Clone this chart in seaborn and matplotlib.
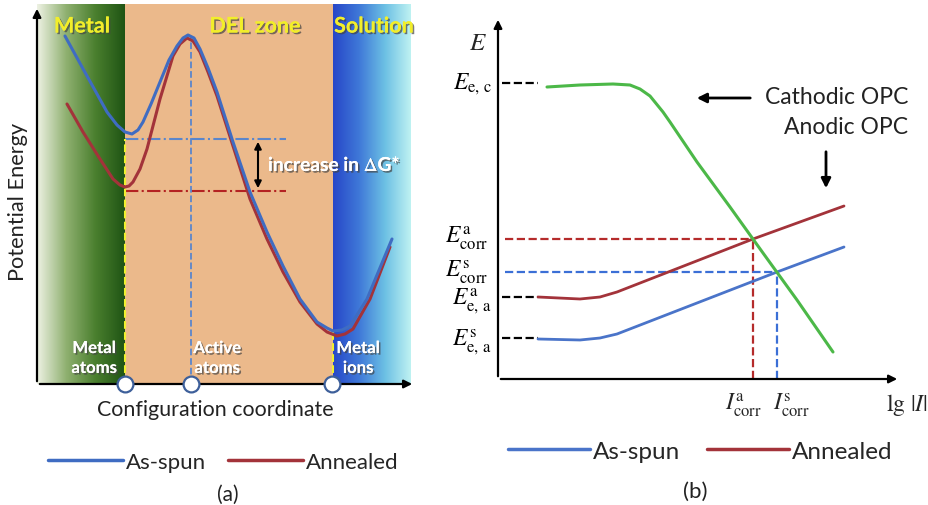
import matplotlib
matplotlib.use("Agg")
import matplotlib.pyplot as plt
import matplotlib.patheffects as pe
from matplotlib.colors import LinearSegmentedColormap
from matplotlib.lines import Line2D
import seaborn as sns
import numpy as np

# ---- panel (a): potential energy vs configuration coordinate (arbitrary units) ----
a_spun_x = [28, 50, 70, 80, 88, 95, 101, 106, 114, 123, 132, 140, 146, 151, 157, 163, 171, 180, 196, 213, 230, 246, 263, 280, 290, 296, 305, 313, 330, 355]
a_spun_y = [348, 308, 272, 259, 252, 250, 254, 262, 280, 302, 324, 338, 346, 349, 346, 335, 316, 292, 242, 192, 152, 118, 85, 62, 56, 53, 54, 58, 85, 145]
a_ann_x = [30, 46, 63, 76, 83, 88, 92, 96, 103, 110, 123, 136, 143, 150, 156, 163, 171, 180, 196, 213, 230, 246, 263, 280, 290, 300, 308, 316, 333, 353]
a_ann_y = [280, 252, 225, 205, 199, 197, 198, 202, 215, 235, 285, 328, 340, 346, 343, 332, 312, 288, 238, 185, 145, 112, 82, 60, 52, 48, 50, 55, 85, 137]
zone_edges = [0, 88, 296, 374]        # metal | DEL zone | solution
level_spun, level_ann = 245, 193      # energy minima levels (dash-dot)
active_x = 154
site_x = [88, 154, 295]

# ---- panel (b): E vs lg|I| ----
cat_x = [49, 82, 115, 132, 142, 152, 165, 172, 199, 232, 265, 299, 335]
cat_y = [292, 294, 295, 294, 290, 283, 267, 257, 217, 172, 126, 79, 27]
b_ann_x = [40, 82, 102, 119, 255, 346]
b_ann_y = [82, 80, 82, 87, 140, 173]
b_spun_x = [40, 82, 102, 119, 279, 346]
b_spun_y = [40, 39, 41, 45, 107, 132]
E_ec, E_corr_a, E_corr_s, E_ea_a, E_ea_s = 296, 140, 107, 82, 41
I_corr_a, I_corr_s = 255, 279

BLUE, RED, GREEN = "#3f6cc2", "#a3333a", "#4cb848"

sns.set_theme(style="white")
plt.rcParams["font.family"] = ["Lato", "DejaVu Sans"]
plt.rcParams["mathtext.fontset"] = "stix"

fig = plt.figure(figsize=(9.29, 5.06), dpi=100)
axa = fig.add_axes([37 / 929, 121 / 506, 380 / 929, 380 / 506])
axb = fig.add_axes([498 / 929, 126 / 506, 410 / 929, 360 / 506])

# ================= panel (a) =================
ax = axa
grad = np.linspace(0, 1, 256).reshape(1, -1)
green_cm = LinearSegmentedColormap.from_list("g", ["#eef2e4", "#8fb070", "#4a7f2e", "#1f5414"])
blue_cm = LinearSegmentedColormap.from_list("b", ["#2747c8", "#3f78d8", "#6cc0e4", "#bff2f2"])
ax.imshow(grad, extent=[zone_edges[0], zone_edges[1], 0, 380], aspect="auto", cmap=green_cm, zorder=0)
ax.axvspan(zone_edges[1], zone_edges[2], ymin=0, ymax=1, color="#ebb98b", lw=0, zorder=0)
ax.imshow(grad, extent=[zone_edges[2], zone_edges[3], 0, 380], aspect="auto", cmap=blue_cm, zorder=0)

sns.lineplot(x=a_spun_x, y=a_spun_y, ax=ax, color=BLUE, lw=2.2, zorder=4)
sns.lineplot(x=a_ann_x, y=a_ann_y, ax=ax, color=RED, lw=2.2, zorder=3)

ax.plot([zone_edges[1], 249], [level_spun] * 2, ls="-.", color="#5a86cc", lw=1.5, zorder=2)
ax.plot([zone_edges[1], 249], [level_ann] * 2, ls="-.", color="#b42222", lw=1.5, zorder=2)
ax.plot([active_x, active_x], [0, 347], ls="--", color="#5a86cc", lw=1.3, zorder=2)
ax.plot([zone_edges[1]] * 2, [0, level_spun], ls="--", color="#f0f030", lw=1.5, zorder=2)
ax.plot([zone_edges[2]] * 2, [0, 55], ls="--", color="#f0f030", lw=1.5, zorder=2)
ax.annotate("", xy=(221, level_spun), xytext=(221, level_ann),
            arrowprops=dict(arrowstyle="<|-|>", color="black", lw=1.5, mutation_scale=10))
ax.scatter(site_x, [0] * 3, s=130, facecolor="white", edgecolor="#3d5f9a", lw=1.6, zorder=6, clip_on=False)

shadow = [pe.withSimplePatchShadow(offset=(1.2, -1.2), shadow_rgbFace="#444444", alpha=0.7), pe.Normal()]
for txt, x in [("Metal", 45), ("DEL zone", 218), ("Solution", 337)]:
    ax.text(x, 358, txt, color="#f2ee2a", fontsize=15.5, fontweight="bold", ha="center", va="center",
            path_effects=shadow, zorder=7)
for txt, x in [("Metal\natoms", 57), ("Active\natoms", 180), ("Metal\nions", 321)]:
    ax.text(x, 26, txt, color="white", fontsize=12, fontweight="bold", ha="center", va="center",
            linespacing=1.3, path_effects=shadow, zorder=7)
ax.text(231, 219, r"increase in $\Delta$G*", color="white", fontsize=13.8, fontweight="bold",
        ha="left", va="center", path_effects=shadow, zorder=7)

ax.set_xlim(0, 380)
ax.set_ylim(0, 380)
for s in ax.spines.values():
    s.set_visible(False)
ax.set_xticks([])
ax.set_yticks([])
ax.annotate("", xy=(378, 0), xytext=(0, 0), xycoords="data",
            arrowprops=dict(arrowstyle="-|>", color="black", lw=1.6, mutation_scale=12), annotation_clip=False)
ax.annotate("", xy=(0, 378), xytext=(0, 0), xycoords="data",
            arrowprops=dict(arrowstyle="-|>", color="black", lw=1.6, mutation_scale=12), annotation_clip=False)
ax.text(-19, 183, "Potential Energy", rotation=90, fontsize=15.7, ha="center", va="center", color="#222222")
ax.text(178, -25, "Configuration coordinate", fontsize=15.4, ha="center", va="center", color="#222222")
ax.text(191, -110, "(a)", fontsize=15, ha="center", va="center", color="#222222")

# ================= panel (b) =================
ax = axb
sns.lineplot(x=cat_x, y=cat_y, ax=ax, color=GREEN, lw=2.2, zorder=4)
sns.lineplot(x=b_ann_x, y=b_ann_y, ax=ax, color=RED, lw=2.0, zorder=3)
sns.lineplot(x=b_spun_x, y=b_spun_y, ax=ax, color="#4a74c9", lw=2.0, zorder=3)

ax.plot([7, I_corr_a], [E_corr_a] * 2, ls="--", color="#b52b2b", lw=1.6)
ax.plot([I_corr_a] * 2, [0, E_corr_a], ls="--", color="#b52b2b", lw=1.6)
ax.plot([7, I_corr_s], [E_corr_s] * 2, ls="--", color="#3b6fd6", lw=1.6)
ax.plot([I_corr_s] * 2, [0, E_corr_s], ls="--", color="#3b6fd6", lw=1.6)
for lv in [E_ec, E_ea_a, E_ea_s]:
    ax.plot([4, 40], [lv, lv], ls="--", color="black", lw=1.6)

lab_kw = dict(fontsize=17, ha="right", va="center", color="black")
ax.text(-6, E_ec, r"$E_{\mathrm{e,\,c}}$", **lab_kw)
ax.text(-10, E_corr_a + 2, r"$E^{\mathrm{a}}_{\mathrm{corr}}$", **lab_kw)
ax.text(-10, E_corr_s + 1, r"$E^{\mathrm{s}}_{\mathrm{corr}}$", **lab_kw)
ax.text(-6, E_ea_a - 3, r"$E^{\mathrm{a}}_{\mathrm{e,\,a}}$", **lab_kw)
ax.text(-6, E_ea_s - 3, r"$E^{\mathrm{s}}_{\mathrm{e,\,a}}$", **lab_kw)
ax.text(-20, 338, r"$E$", fontsize=18, ha="center", va="center")
ax.text(I_corr_a - 10, -25, r"$I^{\mathrm{a}}_{\mathrm{corr}}$", fontsize=17, ha="center", va="center")
ax.text(I_corr_s + 14, -25, r"$I^{\mathrm{s}}_{\mathrm{corr}}$", fontsize=17, ha="center", va="center")
ax.text(388, -25, r"$\mathrm{lg}\ |I|$", fontsize=17, ha="left", va="center")

ax.text(267, 282, "Cathodic OPC", fontsize=16.5, ha="left", va="center", color="#222222")
ax.text(410, 252, "Anodic OPC", fontsize=16.5, ha="right", va="center", color="#222222")
ax.annotate("", xy=(196, 281), xytext=(255, 281),
            arrowprops=dict(arrowstyle="-|>", color="black", lw=2, mutation_scale=14))
ax.annotate("", xy=(328, 188), xytext=(328, 230),
            arrowprops=dict(arrowstyle="-|>", color="black", lw=2, mutation_scale=14))

ax.set_xlim(0, 410)
ax.set_ylim(0, 360)
for s in ax.spines.values():
    s.set_visible(False)
ax.set_xticks([])
ax.set_yticks([])
ax.annotate("", xy=(402, 0), xytext=(0, 0),
            arrowprops=dict(arrowstyle="-|>", color="black", lw=1.6, mutation_scale=12), annotation_clip=False)
ax.annotate("", xy=(0, 362), xytext=(0, 0),
            arrowprops=dict(arrowstyle="-|>", color="black", lw=1.6, mutation_scale=12), annotation_clip=False)
ax.text(197, -112, "(b)", fontsize=16, ha="center", va="center", color="#222222")

# ---- legends ----
fig.legend(handles=[Line2D([], [], color=BLUE, lw=2.5), Line2D([], [], color=RED, lw=2.5)],
           labels=["As-spun", "Annealed"], ncol=2, frameon=False, fontsize=16,
           handlelength=3.4, handletextpad=0.1, columnspacing=1.0,
           loc="center", bbox_to_anchor=(223 / 929, 1 - 463 / 506))
fig.legend(handles=[Line2D([], [], color="#4a74c9", lw=2.5), Line2D([], [], color=RED, lw=2.5)],
           labels=["As-spun", "Annealed"], ncol=2, frameon=False, fontsize=17.5,
           handlelength=3.4, handletextpad=0.1, columnspacing=1.1,
           loc="center", bbox_to_anchor=(700 / 929, 1 - 452 / 506))

fig.savefig("out.png", dpi=100)
